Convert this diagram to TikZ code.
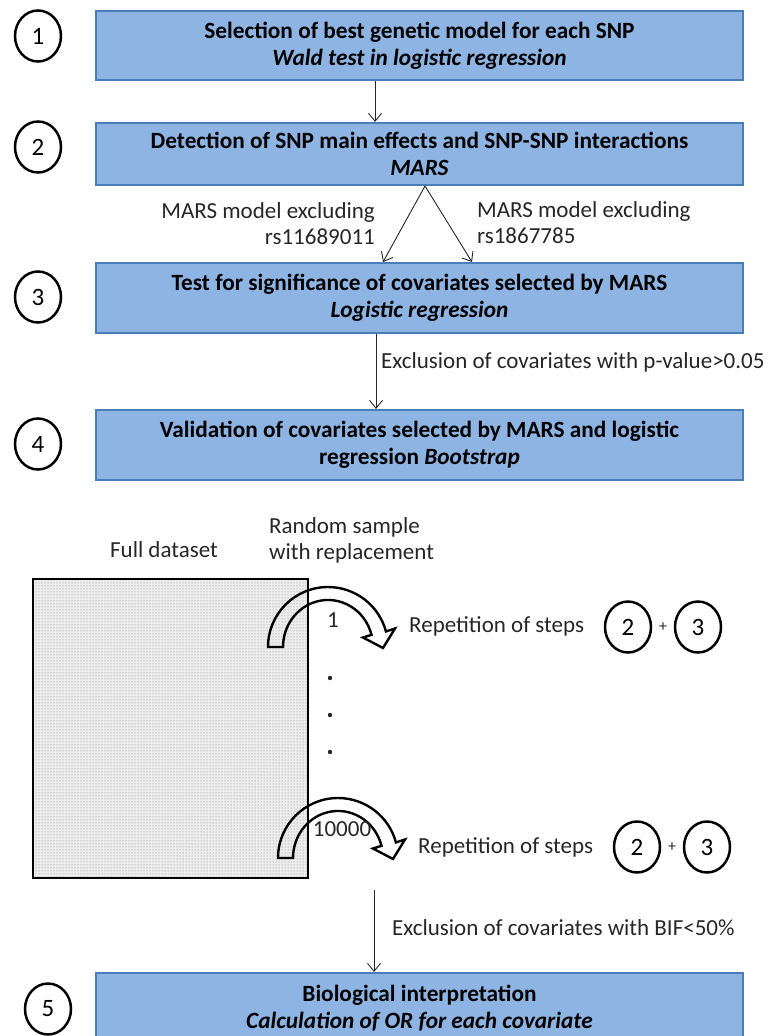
\documentclass[tikz,border=0pt]{standalone}
\usepackage{fontspec}
\setmainfont{Carlito}
\usetikzlibrary{arrows.meta,shapes.geometric,patterns}
\definecolor{boxfill}{RGB}{142,180,227}
\definecolor{boxline}{RGB}{74,126,187}
\definecolor{txt}{RGB}{38,38,38}
\tikzset{
  stepbox/.style={draw=boxline, fill=boxfill, line width=2pt, rectangle,
    anchor=north west, minimum width=647pt, align=center, inner sep=0pt,
    font=\fontsize{23.3}{27}\selectfont\bfseries},
  stepnum/.style={draw=black, line width=2.5pt, ellipse, minimum width=46pt,
    minimum height=51pt, inner sep=0pt, font=\fontsize{25}{27}\selectfont},
  lbl/.style={text=txt, font=\fontsize{23}{26}\selectfont, inner sep=0pt},
  arr/.style={draw=txt, line width=0.9pt, -{Straight Barb[length=8pt,width=13pt]}},
  % hollow curved arrow, centred on the arc centre
  bendarrow/.pic={
    \draw[line width=2.4pt, line join=miter]
      (-60,0) arc[start angle=180, end angle=345, x radius=60, y radius=60]
      -- (67,-18.5) -- (55,1) -- (35,-9.5) -- (43.5,-12.2)
      arc[start angle=345, end angle=180, x radius=45, y radius=47] -- cycle;
  }
}
\begin{document}
\begin{tikzpicture}[x=1pt,y=-1pt]
\useasboundingbox (0,0) rectangle (773,1036);

% step boxes
\node[stepbox, minimum height=69pt] (box1) at (95,10)
  {Selection of best genetic model for each SNP\\\textit{Wald test in logistic regression}};
\node[stepbox, minimum height=62pt] (box2) at (95,122)
  {Detection of SNP main effects and SNP-SNP interactions\\\textit{MARS}};
\node[stepbox, minimum height=70pt] (box3) at (95,262)
  {Test for significance of covariates selected by MARS\\\textit{Logistic regression}};
\node[stepbox, minimum height=70pt] (box4) at (95,409)
  {Validation of covariates selected by MARS and logistic\\regression \textit{Bootstrap}};
\begin{scope}
  \clip (0,0) rectangle (773,1036);
  \node[stepbox, minimum height=70pt] (box5) at (95,972)
    {Biological interpretation\\\textit{Calculation of OR for each covariate}};
  \draw[boxline, line width=2pt, fill=boxfill] (box5.south west) rectangle ++(647,20);
  \fill[boxfill] ([xshift=1pt,yshift=1.5pt]box5.south west) rectangle ([xshift=-1pt,yshift=-1.5pt]box5.south east);
\end{scope}

% step numbers
\node[stepnum] (n1) at (38,36) {1};
\node[stepnum] (n2) at (38,147) {2};
\node[stepnum] (n3) at (38,297) {3};
\node[stepnum] (n4) at (38,444) {4};
\node[stepnum] (n5) at (48,1009) {5};

% connectors between the steps
\coordinate (axA) at (375,0);
\coordinate (axB) at (376,0);
\coordinate (apexx) at (425,0);
\coordinate (leftx) at (383,0);
\coordinate (rightx) at (472,0);
\draw[arr] (box1.south -| axA) -- (box2.north -| axA);
\draw[arr] (box2.south -| apexx) -- (box3.north -| leftx);
\draw[arr] (box2.south -| apexx) -- (box3.north -| rightx);
\draw[arr] (box3.south -| axB) -- (box4.north -| axB);

\node[lbl, align=right, anchor=east] (mL) at (375,223.5)
  {MARS model excluding\\rs11689011};
\node[lbl, align=left, anchor=west] (mR) at (477,222.5)
  {MARS model excluding\\rs1867785};
\node[lbl, anchor=west] (pval) at (381,362)
  {Exclusion of covariates with p-value>0.05};

% bootstrap resampling
\node[draw=black, line width=2.4pt, rectangle, anchor=north west,
  minimum width=275pt, minimum height=299pt, inner sep=0pt,
  preaction={fill=black!7}, pattern=dots, pattern color=black!50] (data) at (32,578) {};
\node[lbl] (full) at (164,550) {Full dataset};
\node[lbl, align=left, anchor=west] (rand) at (269,540)
  {Random sample\\with replacement};

\pic at (328,647) {bendarrow};
\pic at (338,858) {bendarrow};
\node[lbl] (k1) at (333,620) {1};
\node[lbl] (kN) at (342,829) {10000};

\fill[txt] (330,678) circle[radius=2.2pt];
\fill[txt] (330,715) circle[radius=2.2pt];
\fill[txt] (330,752) circle[radius=2.2pt];

\node[lbl, anchor=west] (rep1) at (409,626) {Repetition of steps};
\node[stepnum] (r1a) at (628,627) {2};
\node[lbl, font=\fontsize{16}{18}\selectfont] (p1) at (663,627) {+};
\node[stepnum] (r1b) at (698,627) {3};

\node[lbl, anchor=west] (rep2) at (418,847) {Repetition of steps};
\node[stepnum] (r2a) at (637,847) {2};
\node[lbl, font=\fontsize{16}{18}\selectfont] (p2) at (672,847) {+};
\node[stepnum] (r2b) at (707,847) {3};

\coordinate (bifstart) at (374,890);
\draw[arr] (bifstart) -- (box5.north -| bifstart);
\node[lbl, anchor=west] (bif) at (392,928)
  {Exclusion of covariates with BIF<50\%};
\end{tikzpicture}
\end{document}
